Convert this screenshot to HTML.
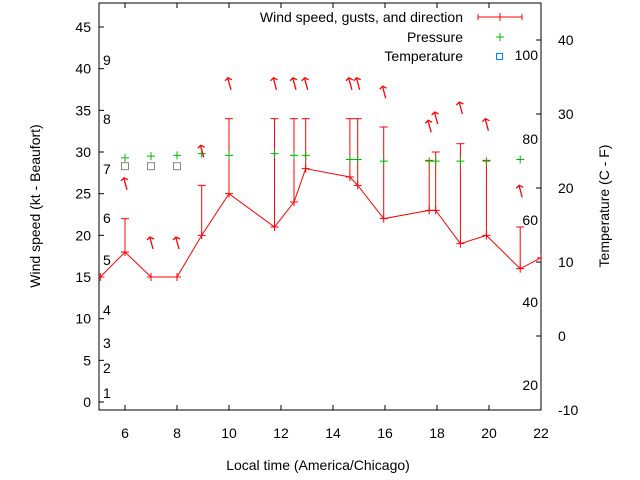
<!DOCTYPE html>
<html><head><meta charset="utf-8"><style>
body{margin:0;background:#fff;}
svg{display:block;font-family:"Liberation Sans",sans-serif;}
</style></head><body>
<svg id="c" width="640" height="480"></svg>
<script>
const hours=[5.05,6.0,7.0,8.0,8.95,10.0,11.75,12.5,12.95,14.65,14.95,15.95,17.7,17.95,18.9,19.9,21.2,22.0];
const wind=[15,18,15,15,20,25,21,24,28,27,26,22,23,23,19,20,16,17.3];
const gusts=[null,22,null,null,26,34,34,34,34,34,34,33,29,30,31,29,21,null];
const pressure=[null,29.3,29.5,29.6,29.8,29.6,29.8,29.6,29.6,29.1,29.1,28.9,28.9,28.9,28.9,28.9,29.1,null];
const tempHours=[6,7,8];
const tempVals=[28.3,28.3,28.3];
const dirY=[null,26.3,19.2,19.2,30.2,38.3,38.3,38.3,38.3,38.3,38.3,37.3,33.2,34.2,35.4,33.4,25.4,null];
const xTicks=[6,8,10,12,14,16,18,20,22];
const yTicks=[0,5,10,15,20,25,30,35,40,45];
const y2Ticks=[-10,0,10,20,30,40];
const beaufort=[[1,393],[2,368],[3,343],[4,310],[5,260],[6,218],[7,169],[8,119],[9,60]];
const fLabels=[[100,55],[80,139],[60,220],[40,302],[20,385]];

const L=99,R=541,T=3,B=410;
const X=h=>L+(h-5)*(R-L)/17;
const Y=v=>402-v*8.333;
const Y2=t=>336-t*7.4;
const svg=document.getElementById('c');
const NS='http://www.w3.org/2000/svg';
function mk(tag,a,parent){const e=document.createElementNS(NS,tag);for(const k in a)e.setAttribute(k,a[k]);(parent||svg).appendChild(e);return e;}
function txt(s,a){const e=mk('text',a);e.textContent=s;return e;}

// clip
const defs=mk('defs',{});const cp=mk('clipPath',{id:'pc'},defs);mk('rect',{x:L,y:T,width:R-L,height:B-T},cp);

let e=mk('rect',{x:L,y:T,width:R-L,height:B-T,fill:'none',stroke:'#000','stroke-width':1});


xTicks.forEach(h=>{
 mk('line',{x1:X(h),x2:X(h),y1:B,y2:B-5,stroke:'#000'});
 mk('line',{x1:X(h),x2:X(h),y1:T,y2:T+5,stroke:'#000'});
 const t=txt(h,{x:X(h),y:B+28,'font-size':14,'text-anchor':'middle',fill:'#000'});
 
});
yTicks.forEach(v=>{
 mk('line',{x1:L,x2:L+5,y1:Y(v),y2:Y(v),stroke:'#000'});
 const t=txt(v,{x:L-8,y:Y(v)+5,'font-size':14,'text-anchor':'end',fill:'#000'});
 
});
y2Ticks.forEach(v=>{
 mk('line',{x1:R,x2:R-5,y1:Y2(v),y2:Y2(v),stroke:'#000'});
 const t=txt(v,{x:558,y:Y2(v)+5,'font-size':14,fill:'#000'});
 
});
beaufort.forEach(([b,y])=>{const t=txt(b,{x:103,y:y+5,'font-size':14,fill:'#000'});
 });
fLabels.forEach(([f,y])=>{const t=txt(f,{x:538,y:y+5,'font-size':14,'text-anchor':'end',fill:'#000'});
 });

let t=txt('Local time (America/Chicago)',{x:318,y:470,'font-size':14,'text-anchor':'middle'});

t=txt('Wind speed (kt - Beaufort)',{x:0,y:0,'font-size':14,'text-anchor':'middle',transform:'translate(40,206) rotate(-90)'});

t=txt('Temperature (C - F)',{x:0,y:0,'font-size':14,'text-anchor':'middle',transform:'translate(609,206) rotate(-90)'});


const g=mk('g',{'clip-path':'url(#pc)'});
// gust bars
hours.forEach((h,i)=>{if(gusts[i]==null)return;
 const b=mk('line',{x1:X(h),x2:X(h),y1:Y(wind[i]),y2:Y(gusts[i]),stroke:'#f00'},g);
 
 mk('line',{x1:X(h)-4,x2:X(h)+4,y1:Y(gusts[i]),y2:Y(gusts[i]),stroke:'#f00'},g);
});
// wind line
const pl=mk('polyline',{points:hours.map((h,i)=>X(h)+','+Y(wind[i])).join(' '),fill:'none',stroke:'#f00'},g);

hours.forEach((h,i)=>{
 const p=mk('path',{d:`M${X(h)-4},${Y(wind[i])}h8M${X(h)},${Y(wind[i])-4}v8`,stroke:'#f00'},g);
 
});
// pressure
hours.forEach((h,i)=>{if(pressure[i]==null)return;
 const p=mk('path',{d:`M${X(h)-4},${Y(pressure[i])}h8M${X(h)},${Y(pressure[i])-4}v8`,stroke:'#0b0'},g);
 
});
// temperature
tempHours.forEach((h,i)=>{
 const r=mk('rect',{x:X(h)-3.5,y:Y(tempVals[i])-3.5,width:7,height:7,fill:'none',stroke:'#888'},g);
 
});
// direction arrows
hours.forEach((h,i)=>{if(dirY[i]==null)return;
 const x=X(h),y=Y(dirY[i]);
 const a=mk('path',{d:`M${x+2},${y+7}L${x-1},${y-4}M${x-4},${y-2}L${x-1},${y-5}L${x+3},${y-3}`,stroke:'#f00',fill:'none','stroke-width':1.3},g);
 
});

// legend
const lg=mk('g',{});
[['Wind speed, gusts, and direction',17],['Pressure',37],['Temperature',56]].forEach(([s,y])=>{
 const e=txt(s,{x:463,y:y+5,'font-size':14,'text-anchor':'end'});
 
});
mk('path',{d:'M478,17h44M478,14v6M522,14v6M500,13v8',stroke:'#f00'},lg);
mk('path',{d:'M496,37h8M500,33v8',stroke:'#0b0'},lg);
mk('rect',{x:496.5,y:53.5,width:6,height:6,fill:'none',stroke:'#08f'},lg);
</script>
</body></html>
